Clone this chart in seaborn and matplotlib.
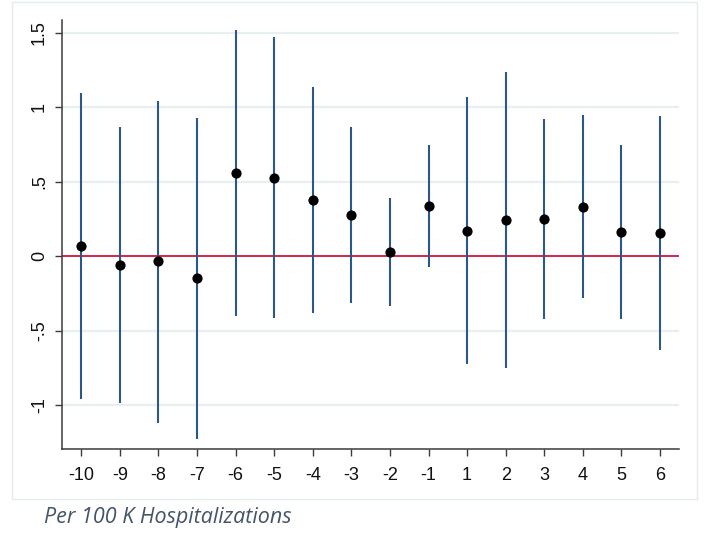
import matplotlib
matplotlib.use("Agg")
import matplotlib.pyplot as plt
from matplotlib.patches import Rectangle
import numpy as np
import pandas as pd
import seaborn as sns

# Event-time periods and estimates with 95% confidence bounds
periods = ["-10", "-9", "-8", "-7", "-6", "-5", "-4", "-3", "-2", "-1",
           "1", "2", "3", "4", "5", "6"]
estimate = [0.070, -0.062, -0.033, -0.148, 0.557, 0.527, 0.377, 0.278,
            0.029, 0.338, 0.170, 0.240, 0.249, 0.332, 0.162, 0.157]
ci_low = [-0.961, -0.989, -1.119, -1.227, -0.399, -0.413, -0.381, -0.312,
          -0.334, -0.072, -0.727, -0.754, -0.422, -0.283, -0.424, -0.628]
ci_high = [1.096, 0.865, 1.046, 0.930, 1.518, 1.470, 1.134, 0.867,
           0.392, 0.748, 1.069, 1.237, 0.923, 0.948, 0.746, 0.939]

y_ticks = [-1, -0.5, 0, 0.5, 1, 1.5]
y_tick_labels = ["-1", "-.5", "0", ".5", "1", "1.5"]
caption = "Per 100 K Hospitalizations"

df = pd.DataFrame({
    "period": periods,
    "pos": np.arange(len(periods)),
    "estimate": estimate,
    "ci_low": ci_low,
    "ci_high": ci_high,
})

sns.set_theme(style="white")
plt.rcParams["font.family"] = ["Liberation Sans", "DejaVu Sans"]

W, H = 705, 533
fig = plt.figure(figsize=(W / 100, H / 100), dpi=100)
ax = fig.add_axes([62 / W, 1 - 449 / H, (679.3 - 62) / W, (449 - 20) / H])

grid_color = "#e8eff1"
for yv in y_ticks:
    if yv != 0:
        ax.axhline(yv, color=grid_color, lw=1.6, zorder=0)
ax.axhline(0, color="#d1143c", lw=1.3, zorder=1)

ax.vlines(df["pos"], df["ci_low"], df["ci_high"], color="#2b5886",
          lw=1.5, zorder=2)
sns.scatterplot(data=df, x="pos", y="estimate", ax=ax, color="black",
                s=54, edgecolor="black", linewidth=0, zorder=3, legend=False)

ax.set_xlim(-0.5, len(periods) - 0.5)
ax.set_ylim(-1.296, 1.587)
ax.set_xticks(df["pos"])
ax.set_xticklabels(periods)
ax.set_yticks(y_ticks)
ax.set_yticklabels(y_tick_labels, rotation=90, va="center")
ax.set_xlabel("")
ax.set_ylabel("")

for side in ["top", "right"]:
    ax.spines[side].set_visible(False)
for side in ["left", "bottom"]:
    ax.spines[side].set_color("#3a3a3a")
    ax.spines[side].set_linewidth(1.1)

ax.tick_params(axis="both", which="major", direction="out", length=5,
               width=1.0, color="#3a3a3a", labelsize=13,
               labelcolor="#111111", left=True, bottom=True)
ax.tick_params(axis="y", pad=5)
ax.tick_params(axis="x", pad=8)

# light frame around the chart panel
fig.patches.append(Rectangle((12 / W, 1 - 499 / H), (697 - 12) / W,
                             (499 - 2) / H, transform=fig.transFigure,
                             fill=False, edgecolor="#e3ecec", lw=1.0))

fig.text(44 / W, 1 - 517 / H, caption, ha="left", va="center",
         fontsize=15.5, style="italic", color="#44546a",
         family=["Open Sans", "DejaVu Sans"])

fig.savefig("out.png", dpi=100, facecolor="white")
